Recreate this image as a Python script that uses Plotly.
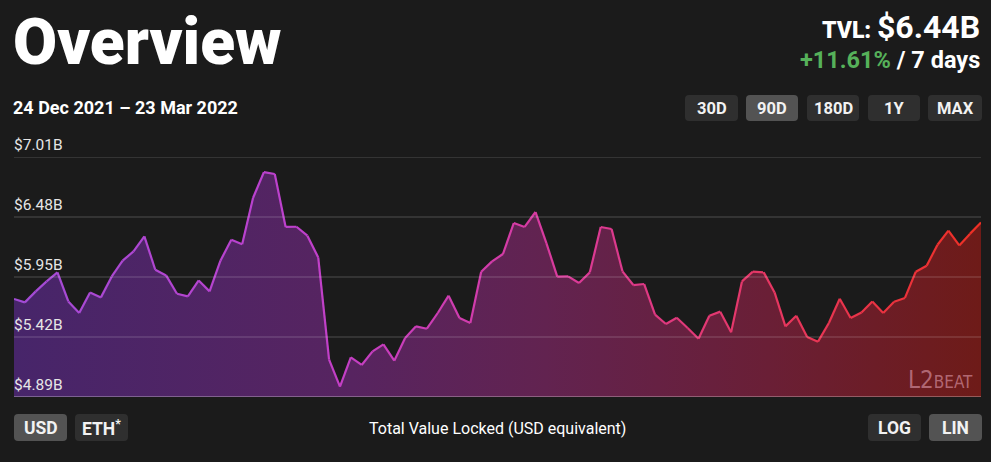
import plotly.graph_objects as go
import pandas as pd

# ---- data ----
dates = pd.date_range("2021-12-24", "2022-03-23", freq="D")
tvl = [5.756, 5.726, 5.823, 5.911, 5.991, 5.734, 5.632, 5.814, 5.770, 5.955,
       6.094, 6.176, 6.309, 6.014, 5.964, 5.802, 5.779, 5.920, 5.823, 6.094,
       6.279, 6.240, 6.648, 6.877, 6.860, 6.392, 6.394, 6.315, 6.123, 5.220,
       4.981, 5.240, 5.173, 5.293, 5.355, 5.211, 5.411, 5.514, 5.493, 5.632,
       5.785, 5.588, 5.544, 5.997, 6.088, 6.153, 6.427, 6.392, 6.524, 6.250,
       5.953, 5.955, 5.897, 5.991, 6.392, 6.374, 6.000, 5.879, 5.888, 5.617,
       5.535, 5.590, 5.500, 5.405, 5.608, 5.644, 5.461, 5.911, 5.997, 5.991,
       5.814, 5.514, 5.608, 5.420, 5.379, 5.544, 5.758, 5.588, 5.637, 5.734,
       5.632, 5.732, 5.765, 5.997, 6.050, 6.235, 6.359, 6.229, 6.333, 6.432]
y_ticks = [4.89, 5.42, 5.95, 6.48, 7.01]
y_tick_labels = ["$4.89B", "$5.42B", "$5.95B", "$6.48B", "$7.01B"]
range_buttons = ["30D", "90D", "180D", "1Y", "MAX"]
active_range = "90D"
currency_buttons = ["USD", "ETH<sup>*</sup>"]
scale_buttons = ["LOG", "LIN"]

BG = "#1b1b1b"
FONT = "Roboto"

# plot-area geometry (pixels)
PL, PR, PT, PB = 14, 981, 157, 397
FW, FH = 991, 462


def px(x):
    return (x - PL) / (PR - PL)


def py(y):
    return (PB - y) / (PB - PT)


def hex2rgb(h):
    h = h.lstrip("#")
    return tuple(int(h[i:i + 2], 16) for i in (0, 2, 4))


def interp(scale, t):
    for (t0, c0), (t1, c1) in zip(scale[:-1], scale[1:]):
        if t0 <= t <= t1:
            f = (t - t0) / (t1 - t0) if t1 > t0 else 0
            a, b = hex2rgb(c0), hex2rgb(c1)
            return "rgb(%d,%d,%d)" % tuple(round(a[i] + (b[i] - a[i]) * f) for i in range(3))
    return scale[-1][1]


line_scale = [(0, "#a24cd6"), (0.3, "#bf40cc"), (0.55, "#d83b9f"), (0.78, "#e63763"), (1, "#ee3024")]
fill_scale = [(0, "#47256a"), (0.35, "#572460"), (0.55, "#622350"), (0.78, "#6a1f36"), (1, "#6e1b18")]

fig = go.Figure()

# filled area with horizontal gradient
fig.add_trace(go.Scatter(
    x=dates, y=tvl, mode="lines", line=dict(width=0),
    fill="tozeroy",
    fillgradient=dict(type="horizontal",
                      colorscale=[[t, c] for t, c in fill_scale]),
    hoverinfo="skip", showlegend=False))

# gradient line, segment by segment
n = len(tvl)
for i in range(n - 1):
    fig.add_trace(go.Scatter(
        x=dates[i:i + 2], y=tvl[i:i + 2], mode="lines",
        line=dict(color=interp(line_scale, (i + 0.5) / (n - 1)), width=2.2),
        hoverinfo="skip", showlegend=False))

shapes = []
annotations = []

# grid lines above the fill
for v in y_ticks[1:]:
    shapes.append(dict(type="line", xref="paper", yref="y", x0=0, x1=1, y0=v, y1=v,
                       line=dict(color="rgba(255,255,255,0.22)", width=1), layer="above"))
shapes.append(dict(type="line", xref="paper", yref="y", x0=0, x1=1, y0=y_ticks[0], y1=y_ticks[0],
                   line=dict(color="rgba(255,255,255,0.28)", width=2), layer="above"))

for v, lab in zip(y_ticks, y_tick_labels):
    annotations.append(dict(xref="paper", yref="y", x=0, y=v, text=lab, showarrow=False,
                            xanchor="left", yanchor="bottom", yshift=1, xshift=-2,
                            font=dict(family=FONT, size=15.5, color="#e6e6e6")))


def rrect(x0, y0, x1, y1, color, r=4):
    X0, X1 = px(x0), px(x1)
    Y0, Y1 = py(y0), py(y1)
    rx, ry = r / (PR - PL), r / (PB - PT)
    path = (f"M {X0+rx},{Y0} L {X1-rx},{Y0} Q {X1},{Y0} {X1},{Y0-ry} "
            f"L {X1},{Y1+ry} Q {X1},{Y1} {X1-rx},{Y1} L {X0+rx},{Y1} "
            f"Q {X0},{Y1} {X0},{Y1+ry} L {X0},{Y0-ry} Q {X0},{Y0} {X0+rx},{Y0} Z")
    shapes.append(dict(type="path", xref="paper", yref="paper", path=path,
                       fillcolor=color, line=dict(width=0), layer="above"))


def button(label, x0, x1, y0, y1, active, size=16.5):
    rrect(x0, y0, x1, y1, "#535353" if active else "#2f2f2f")
    annotations.append(dict(xref="paper", yref="paper", x=px((x0 + x1) / 2), y=py((y0 + y1) / 2),
                            text=label, showarrow=False,
                            xanchor="center", yanchor="middle",
                            font=dict(family=FONT, size=size, color="#f2f2f2", weight=700)))


rb_x = [(685, 738), (746, 798), (807, 859), (868, 920), (928, 982)]
for lab, (a, b) in zip(range_buttons, rb_x):
    button(lab, a, b, 95, 121, lab == active_range)

cb_x = [(14, 67), (75, 128)]
for k, (lab, (a, b)) in enumerate(zip(currency_buttons, cb_x)):
    button(lab, a, b, 414, 441, k == 0, size=17.5)

sb_x = [(868, 921), (929, 982)]
for k, (lab, (a, b)) in enumerate(zip(scale_buttons, sb_x)):
    button(lab, a, b, 414, 441, k == 1, size=17.5)

# titles and texts
annotations.append(dict(xref="paper", yref="paper", x=px(11), y=py(43), text="Overview",
                        showarrow=False, xanchor="left", yanchor="middle",
                        font=dict(family=FONT, size=64, color="#ffffff", weight=900)))
annotations.append(dict(xref="paper", yref="paper", x=px(11), y=py(107),
                        text="24 Dec 2021 – 23 Mar 2022",
                        showarrow=False, xanchor="left", yanchor="middle",
                        font=dict(family=FONT, size=18, color="#ffffff", weight=700)))
annotations.append(dict(xref="paper", yref="paper", x=px(982), y=py(27),
                        text="$6.44B",
                        showarrow=False, xanchor="right", yanchor="middle",
                        font=dict(family=FONT, size=32, color="#ffffff", weight=700)))
annotations.append(dict(xref="paper", yref="paper", x=px(873), y=py(30),
                        text="TVL:",
                        showarrow=False, xanchor="right", yanchor="middle",
                        font=dict(family=FONT, size=23, color="#ffffff", weight=900)))
annotations.append(dict(xref="paper", yref="paper", x=px(982), y=py(60),
                        text="<span style='color:#56b15a'>+11.61%</span> / 7 days",
                        showarrow=False, xanchor="right", yanchor="middle",
                        font=dict(family=FONT, size=23.5, color="#ffffff", weight=700)))
annotations.append(dict(xref="paper", yref="paper", x=px(497), y=py(428),
                        text="Total Value Locked (USD equivalent)",
                        showarrow=False, xanchor="center", yanchor="middle",
                        font=dict(family=FONT, size=16, color="#ffffff")))
# watermark
annotations.append(dict(xref="paper", yref="paper", x=px(975), y=py(380),
                        text="<span style='font-size:24px'>L2</span>BEAT",
                        showarrow=False, xanchor="right", yanchor="middle",
                        font=dict(family="Liberation Sans Narrow, DejaVu Sans Condensed", size=17,
                                  color="rgba(235,170,190,0.55)")))

fig.update_layout(
    width=FW, height=FH,
    margin=dict(l=PL, r=FW - PR, t=PT, b=FH - PB, pad=0),
    paper_bgcolor=BG, plot_bgcolor=BG,
    showlegend=False,
    xaxis=dict(range=[dates[0], dates[-1]], showgrid=False, zeroline=False,
               showticklabels=False, showline=False, fixedrange=True),
    yaxis=dict(range=[y_ticks[0], y_ticks[-1]], showgrid=False, zeroline=False,
               showticklabels=False, showline=False, fixedrange=True),
    shapes=shapes, annotations=annotations,
    hovermode=False,
)

fig.write_html("out.html", config={"displayModeBar": False})
